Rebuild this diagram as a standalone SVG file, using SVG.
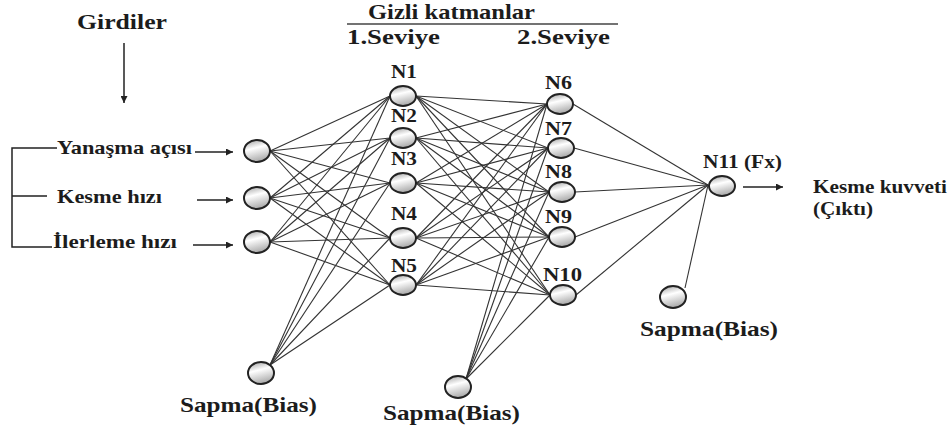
<svg xmlns="http://www.w3.org/2000/svg" width="949" height="432" viewBox="0 0 949 432">
<defs>
<linearGradient id="g" x1="0" y1="0" x2="0.3" y2="1">
<stop offset="0" stop-color="#9a9a9a"/>
<stop offset="0.45" stop-color="#ffffff"/>
<stop offset="1" stop-color="#b0b0b0"/>
</linearGradient>
<marker id="ah" viewBox="0 0 10 10" refX="10" refY="5" markerWidth="9" markerHeight="7" markerUnits="userSpaceOnUse" orient="auto">
<path d="M0,0 L10,5 L0,10 z" fill="#222"/>
</marker>
</defs>
<style>
text{font-family:"Liberation Serif","Times New Roman",serif;font-weight:bold;fill:#1c1c1c}
.t20{font-size:21px}
.t18{font-size:19px}
.t17{font-size:18px}
.n{fill:url(#g);stroke:#222;stroke-width:2}
.c line{stroke:#333;stroke-width:1.1}
.ar{stroke:#222;stroke-width:1.5;fill:none}
</style>

<!-- titles -->
<text class="t20" x="77" y="29" textLength="90" lengthAdjust="spacingAndGlyphs">Girdiler</text>
<line class="ar" x1="124" y1="43" x2="124" y2="103" marker-end="url(#ah)"/>
<text class="t20" x="368" y="19" textLength="167" lengthAdjust="spacingAndGlyphs">Gizli katmanlar</text>
<line x1="347" y1="24" x2="618" y2="24" stroke="#444" stroke-width="1.5"/>
<text class="t20" x="347" y="44" textLength="93" lengthAdjust="spacingAndGlyphs">1.Seviye</text>
<text class="t20" x="517" y="44" textLength="93" lengthAdjust="spacingAndGlyphs">2.Seviye</text>

<!-- inputs -->
<g id="bracket">
<path d="M57,148 H12 V247 H52 M12,196 H47" fill="none" stroke="#222" stroke-width="1.5"/>
</g>
<text class="t18" x="57" y="154" textLength="135" lengthAdjust="spacingAndGlyphs">Yanaşma açısı</text>
<text class="t18" x="57" y="203" textLength="105" lengthAdjust="spacingAndGlyphs">Kesme hızı</text>
<text class="t18" x="53" y="248" textLength="124" lengthAdjust="spacingAndGlyphs">İlerleme hızı</text>
<line class="ar" x1="195" y1="152" x2="233" y2="152" marker-end="url(#ah)"/>
<line class="ar" x1="197" y1="200" x2="233" y2="200" marker-end="url(#ah)"/>
<line class="ar" x1="193" y1="245" x2="233" y2="245" marker-end="url(#ah)"/>

<!-- connectors -->
<g id="connectors" class="c">
<line x1="270" y1="151" x2="390" y2="96"/><line x1="270" y1="151" x2="390" y2="138"/><line x1="270" y1="151" x2="390" y2="183"/><line x1="270" y1="151" x2="390" y2="238"/><line x1="270" y1="151" x2="390" y2="285"/>
<line x1="270" y1="198" x2="390" y2="96"/><line x1="270" y1="198" x2="390" y2="138"/><line x1="270" y1="198" x2="390" y2="183"/><line x1="270" y1="198" x2="390" y2="238"/><line x1="270" y1="198" x2="390" y2="285"/>
<line x1="270" y1="242" x2="390" y2="96"/><line x1="270" y1="242" x2="390" y2="138"/><line x1="270" y1="242" x2="390" y2="183"/><line x1="270" y1="242" x2="390" y2="238"/><line x1="270" y1="242" x2="390" y2="285"/>
<line x1="270" y1="365" x2="390" y2="96"/><line x1="270" y1="365" x2="390" y2="138"/><line x1="270" y1="365" x2="390" y2="183"/><line x1="270" y1="365" x2="390" y2="238"/><line x1="270" y1="365" x2="390" y2="285"/>
<line x1="416" y1="96" x2="547" y2="104"/><line x1="416" y1="96" x2="548" y2="148"/><line x1="416" y1="96" x2="549" y2="192"/><line x1="416" y1="96" x2="549" y2="237"/><line x1="416" y1="96" x2="550" y2="295"/>
<line x1="416" y1="138" x2="547" y2="104"/><line x1="416" y1="138" x2="548" y2="148"/><line x1="416" y1="138" x2="549" y2="192"/><line x1="416" y1="138" x2="549" y2="237"/><line x1="416" y1="138" x2="550" y2="295"/>
<line x1="416" y1="183" x2="547" y2="104"/><line x1="416" y1="183" x2="548" y2="148"/><line x1="416" y1="183" x2="549" y2="192"/><line x1="416" y1="183" x2="549" y2="237"/><line x1="416" y1="183" x2="550" y2="295"/>
<line x1="416" y1="238" x2="547" y2="104"/><line x1="416" y1="238" x2="548" y2="148"/><line x1="416" y1="238" x2="549" y2="192"/><line x1="416" y1="238" x2="549" y2="237"/><line x1="416" y1="238" x2="550" y2="295"/>
<line x1="416" y1="285" x2="547" y2="104"/><line x1="416" y1="285" x2="548" y2="148"/><line x1="416" y1="285" x2="549" y2="192"/><line x1="416" y1="285" x2="549" y2="237"/><line x1="416" y1="285" x2="550" y2="295"/>
<line x1="466" y1="379" x2="547" y2="104"/><line x1="466" y1="379" x2="548" y2="148"/><line x1="466" y1="379" x2="549" y2="192"/><line x1="466" y1="379" x2="549" y2="237"/><line x1="466" y1="379" x2="550" y2="295"/>
<line x1="573" y1="104" x2="708" y2="185"/><line x1="574" y1="148" x2="708" y2="185"/><line x1="575" y1="192" x2="708" y2="185"/><line x1="575" y1="237" x2="708" y2="185"/><line x1="576" y1="295" x2="708" y2="185"/>
<line x1="685" y1="288" x2="708" y2="185"/>
</g>
<line class="ar" x1="743" y1="187" x2="783" y2="187" marker-end="url(#ah)"/>

<!-- nodes -->
<g id="in1"><ellipse class="n" cx="257" cy="151" rx="13" ry="11"/></g>
<g id="in2"><ellipse class="n" cx="257" cy="198" rx="13" ry="11"/></g>
<g id="in3"><ellipse class="n" cx="257" cy="242" rx="13" ry="11"/></g>
<g id="bias1"><ellipse class="n" cx="261" cy="373" rx="13" ry="11"/>
<text class="t20" x="180" y="412" textLength="137" lengthAdjust="spacingAndGlyphs">Sapma(Bias)</text></g>

<g id="N1"><ellipse class="n" cx="403" cy="96" rx="13" ry="10"/><text class="t18" x="391" y="78" textLength="26" lengthAdjust="spacingAndGlyphs">N1</text></g>
<g id="N2"><ellipse class="n" cx="403" cy="138" rx="13" ry="10"/><text class="t18" x="391" y="122" textLength="26" lengthAdjust="spacingAndGlyphs">N2</text></g>
<g id="N3"><ellipse class="n" cx="403" cy="183" rx="13" ry="10"/><text class="t18" x="391" y="165" textLength="26" lengthAdjust="spacingAndGlyphs">N3</text></g>
<g id="N4"><ellipse class="n" cx="403" cy="238" rx="13" ry="10"/><text class="t18" x="391" y="220" textLength="26" lengthAdjust="spacingAndGlyphs">N4</text></g>
<g id="N5"><ellipse class="n" cx="403" cy="285" rx="13" ry="10"/><text class="t18" x="391" y="272" textLength="26" lengthAdjust="spacingAndGlyphs">N5</text></g>

<g id="N6"><ellipse class="n" cx="560" cy="104" rx="13" ry="10"/><text class="t18" x="545" y="89" textLength="27" lengthAdjust="spacingAndGlyphs">N6</text></g>
<g id="N7"><ellipse class="n" cx="561" cy="148" rx="13" ry="10"/><text class="t18" x="545" y="135" textLength="27" lengthAdjust="spacingAndGlyphs">N7</text></g>
<g id="N8"><ellipse class="n" cx="562" cy="192" rx="13" ry="10"/><text class="t18" x="545" y="178" textLength="27" lengthAdjust="spacingAndGlyphs">N8</text></g>
<g id="N9"><ellipse class="n" cx="562" cy="237" rx="13" ry="10"/><text class="t18" x="545" y="223" textLength="27" lengthAdjust="spacingAndGlyphs">N9</text></g>
<g id="N10"><ellipse class="n" cx="563" cy="295" rx="13" ry="10"/><text class="t18" x="543" y="281" textLength="39" lengthAdjust="spacingAndGlyphs">N10</text></g>
<g id="bias2"><ellipse class="n" cx="458" cy="387" rx="13" ry="11"/>
<text class="t20" x="383" y="420" textLength="137" lengthAdjust="spacingAndGlyphs">Sapma(Bias)</text></g>

<g id="N11"><ellipse class="n" cx="722" cy="186" rx="13" ry="10"/><text class="t18" x="703" y="168" textLength="79" lengthAdjust="spacingAndGlyphs">N11 (Fx)</text></g>
<g id="bias3"><ellipse class="n" cx="673" cy="297" rx="13" ry="11"/>
<text class="t20" x="640" y="336" textLength="138" lengthAdjust="spacingAndGlyphs">Sapma(Bias)</text></g>

<g id="output">
<text class="t17" x="813" y="193" textLength="134" lengthAdjust="spacingAndGlyphs">Kesme kuvveti</text>
<text class="t17" x="813" y="215" textLength="60" lengthAdjust="spacingAndGlyphs">(Çıktı)</text>
</g>
</svg>
